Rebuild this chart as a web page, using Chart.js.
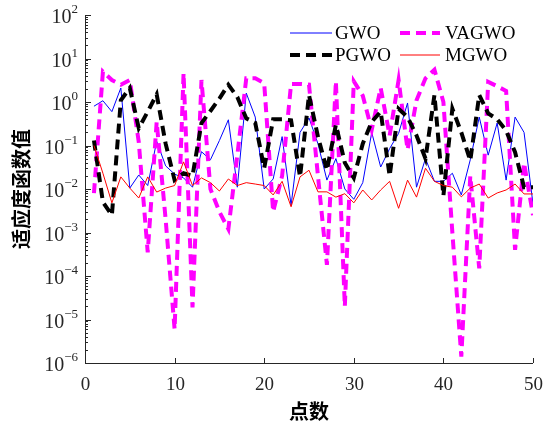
<!DOCTYPE html>
<html>
<head>
<meta charset="utf-8">
<script src="https://cdn.jsdelivr.net/npm/chart.js@4.4.1/dist/chart.umd.min.js"></script>
<style>
  html, body { margin: 0; padding: 0; background: #fff; }
  #wrap { width: 548px; height: 425px; }
</style>
</head>
<body>
<div id="wrap"><canvas id="chart" width="548" height="425"></canvas></div>
<script>
// sample index (点数)
const POINTS = [1, 2, 3, 4, 5, 6, 7, 8, 9, 10, 11, 12, 13, 14, 15, 16, 17, 18, 19, 20,
  21, 22, 23, 24, 25, 26, 27, 28, 29, 30, 31, 32, 33, 34, 35, 36, 37, 38, 39, 40,
  41, 42, 43, 44, 45, 46, 47, 48, 49, 50];

const GWO = [0.8, 1.07, 0.6, 2.1, 0.0105, 0.021, 0.012, 0.125, 0.034, 0.022,
  0.018, 0.011, 0.072, 0.047, 0.13, 0.39, 0.011, 1.6, 0.45, 0.01,
  0.017, 0.16, 0.0042, 0.2, 0.43, 0.11, 0.016, 0.05, 0.01, 0.0058,
  0.014, 0.2, 0.032, 0.085, 0.19, 0.95, 0.011, 0.05, 0.015, 0.015,
  0.023, 0.0073, 0.047, 0.45, 0.06, 0.33, 0.016, 0.45, 0.2, 0.0045];

const VAGWO = [0.008, 5, 3.2, 2.5, 3.2, 0.12, 0.00035, 0.35, 0.002, 0.000006,
  4.6, 0.000019, 3.2, 0.01, 0.003, 0.0012, 0.06, 3.5, 3.5, 2.7,
  0.003, 0.02, 2.6, 2.6, 2.5, 0.02, 0.00018, 3, 0.00002, 3,
  1.4, 0.23, 2.1, 0.17, 3.2, 0.08, 1.1, 3.5, 5.5, 1.0,
  0.001, 0.0000014, 0.02, 0.00015, 2.9, 2.3, 1.8, 0.0004, 0.04, 0.0025];

const PGWO = [0.13, 0.005, 0.0025, 1.1, 2.1, 0.25, 0.6, 1.5, 0.11, 0.016,
  0.023, 0.02, 0.33, 0.62, 1.2, 2.5, 1.3, 0.42, 0.33, 0.03,
  0.4, 0.4, 0.38, 0.019, 1.45, 0.16, 0.027, 0.3, 0.04, 0.018,
  0.11, 0.35, 0.6, 0.02, 0.7, 0.45, 0.17, 0.05, 1.45, 0.007,
  0.7, 0.2, 0.045, 1.45, 0.55, 0.4, 0.22, 0.07, 0.011, 0.011];

const MGWO = [0.1, 0.023, 0.0048, 0.019, 0.0105, 0.0062, 0.019, 0.0085, 0.0105, 0.012,
  0.042, 0.012, 0.018, 0.014, 0.009, 0.017, 0.012, 0.014, 0.013, 0.012,
  0.0073, 0.015, 0.0039, 0.019, 0.027, 0.0086, 0.0086, 0.0065, 0.0078, 0.0048,
  0.0095, 0.0056, 0.0095, 0.015, 0.0036, 0.016, 0.0065, 0.03, 0.015, 0.012,
  0.011, 0.0066, 0.0105, 0.013, 0.0062, 0.0081, 0.0095, 0.013, 0.0077, 0.0077];

const X_TICKS = [0, 10, 20, 30, 40, 50];
const Y_EXPONENTS = [-6, -5, -4, -3, -2, -1, 0, 1, 2];
const X_TITLE = '点数';
const Y_TITLE = '适应度函数值';

const AXIS_COLOR = '#262626';
const SERIF = '"Liberation Serif", "Times New Roman", serif';
const CJK = '"Noto Sans CJK SC", sans-serif';

const SERIES = [
  { label: 'GWO', data: GWO, color: '#0000ff', width: 1, dash: [] },
  { label: 'VAGWO', data: VAGWO, color: '#ff00ff', width: 4, dash: [10, 6] },
  { label: 'PGWO', data: PGWO, color: '#000000', width: 4, dash: [10, 6] },
  { label: 'MGWO', data: MGWO, color: '#ff0000', width: 1, dash: [] },
];

function toPoints(values) {
  return POINTS.map(function (p, i) { return { x: p, y: values[i] }; });
}

function superscript(n) {
  return n < 0 ? '\u2212' + Math.abs(n) : String(n);
}

const axesPlugin = {
  id: 'matlabAxes',
  afterDatasetsDraw(chart) {
    const ctx = chart.ctx;
    const { left, right, top, bottom } = chart.chartArea;
    const xs = chart.scales.x;
    const ys = chart.scales.y;
    ctx.save();

    // axis lines
    ctx.strokeStyle = AXIS_COLOR;
    ctx.lineWidth = 1;
    ctx.setLineDash([]);
    ctx.beginPath();
    ctx.moveTo(left + 0.5, top);
    ctx.lineTo(left + 0.5, bottom + 0.5);
    ctx.lineTo(right, bottom + 0.5);
    ctx.stroke();

    // x ticks + labels
    ctx.fillStyle = AXIS_COLOR;
    ctx.font = '19px ' + SERIF;
    ctx.textAlign = 'center';
    ctx.textBaseline = 'middle';
    X_TICKS.forEach(function (t) {
      const x = Math.round(xs.getPixelForValue(t)) + 0.5;
      ctx.beginPath();
      ctx.moveTo(x, bottom);
      ctx.lineTo(x, bottom - 5);
      ctx.stroke();
      ctx.fillText(String(t), x, bottom + 22);
    });

    // y ticks (major + minor) + labels
    Y_EXPONENTS.forEach(function (e) {
      const y = Math.round(ys.getPixelForValue(Math.pow(10, e))) + 0.5;
      ctx.beginPath();
      ctx.moveTo(left, y);
      ctx.lineTo(left + 6, y);
      ctx.stroke();
      if (e < Y_EXPONENTS[Y_EXPONENTS.length - 1]) {
        for (let m = 2; m <= 9; m++) {
          const ym = Math.round(ys.getPixelForValue(m * Math.pow(10, e))) + 0.5;
          ctx.beginPath();
          ctx.moveTo(left, ym);
          ctx.lineTo(left + 3, ym);
          ctx.stroke();
        }
      }
      const sup = superscript(e);
      ctx.font = '13px ' + SERIF;
      const supW = ctx.measureText(sup).width;
      ctx.font = '20px ' + SERIF;
      const baseW = ctx.measureText('10').width;
      const xEnd = left - 7;
      ctx.textAlign = 'left';
      ctx.textBaseline = 'middle';
      ctx.fillText('10', xEnd - supW - baseW, y + 2);
      ctx.font = '13px ' + SERIF;
      ctx.fillText(sup, xEnd - supW, y - 6);
    });

    // axis titles
    ctx.fillStyle = '#000';
    ctx.font = 'bold 20px ' + CJK;
    ctx.textAlign = 'center';
    ctx.textBaseline = 'middle';
    ctx.fillText(X_TITLE, (left + right) / 2, 411);
    ctx.save();
    ctx.translate(21, (top + bottom) / 2);
    ctx.rotate(-Math.PI / 2);
    ctx.fillText(Y_TITLE, 0, 0);
    ctx.restore();

    // legend (two columns, inside top right)
    const slots = [
      { x0: 290, x1: 332, tx: 335, y: 33 },
      { x0: 400, x1: 440, tx: 445, y: 33 },
      { x0: 290, x1: 332, tx: 335, y: 55 },
      { x0: 400, x1: 440, tx: 445, y: 55 },
    ];
    SERIES.forEach(function (s, i) {
      const slot = slots[i];
      ctx.strokeStyle = s.color;
      ctx.lineWidth = s.width;
      ctx.setLineDash(s.dash);
      ctx.beginPath();
      ctx.moveTo(slot.x0, slot.y);
      ctx.lineTo(slot.x1, slot.y);
      ctx.stroke();
      ctx.setLineDash([]);
      ctx.fillStyle = '#000';
      ctx.font = '19px ' + SERIF;
      ctx.textAlign = 'left';
      ctx.textBaseline = 'middle';
      ctx.fillText(s.label, slot.tx, slot.y + 1);
    });

    ctx.restore();
  },
};

new Chart(document.getElementById('chart'), {
  type: 'line',
  data: {
    datasets: SERIES.map(function (s, i) {
      return {
        label: s.label,
        data: toPoints(s.data),
        borderColor: s.color,
        backgroundColor: s.color,
        borderWidth: s.width,
        borderDash: s.dash,
        pointRadius: 0,
        fill: false,
        tension: 0,
        order: SERIES.length - i,
      };
    }),
  },
  options: {
    responsive: false,
    animation: false,
    devicePixelRatio: 1,
    layout: { padding: { left: 85, right: 15, top: 15, bottom: 62 } },
    plugins: { legend: { display: false }, tooltip: { enabled: false } },
    scales: {
      x: { type: 'linear', min: 0, max: 50, display: false },
      y: { type: 'logarithmic', min: 1e-6, max: 1e2, display: false },
    },
  },
  plugins: [axesPlugin],
});
</script>
</body>
</html>
